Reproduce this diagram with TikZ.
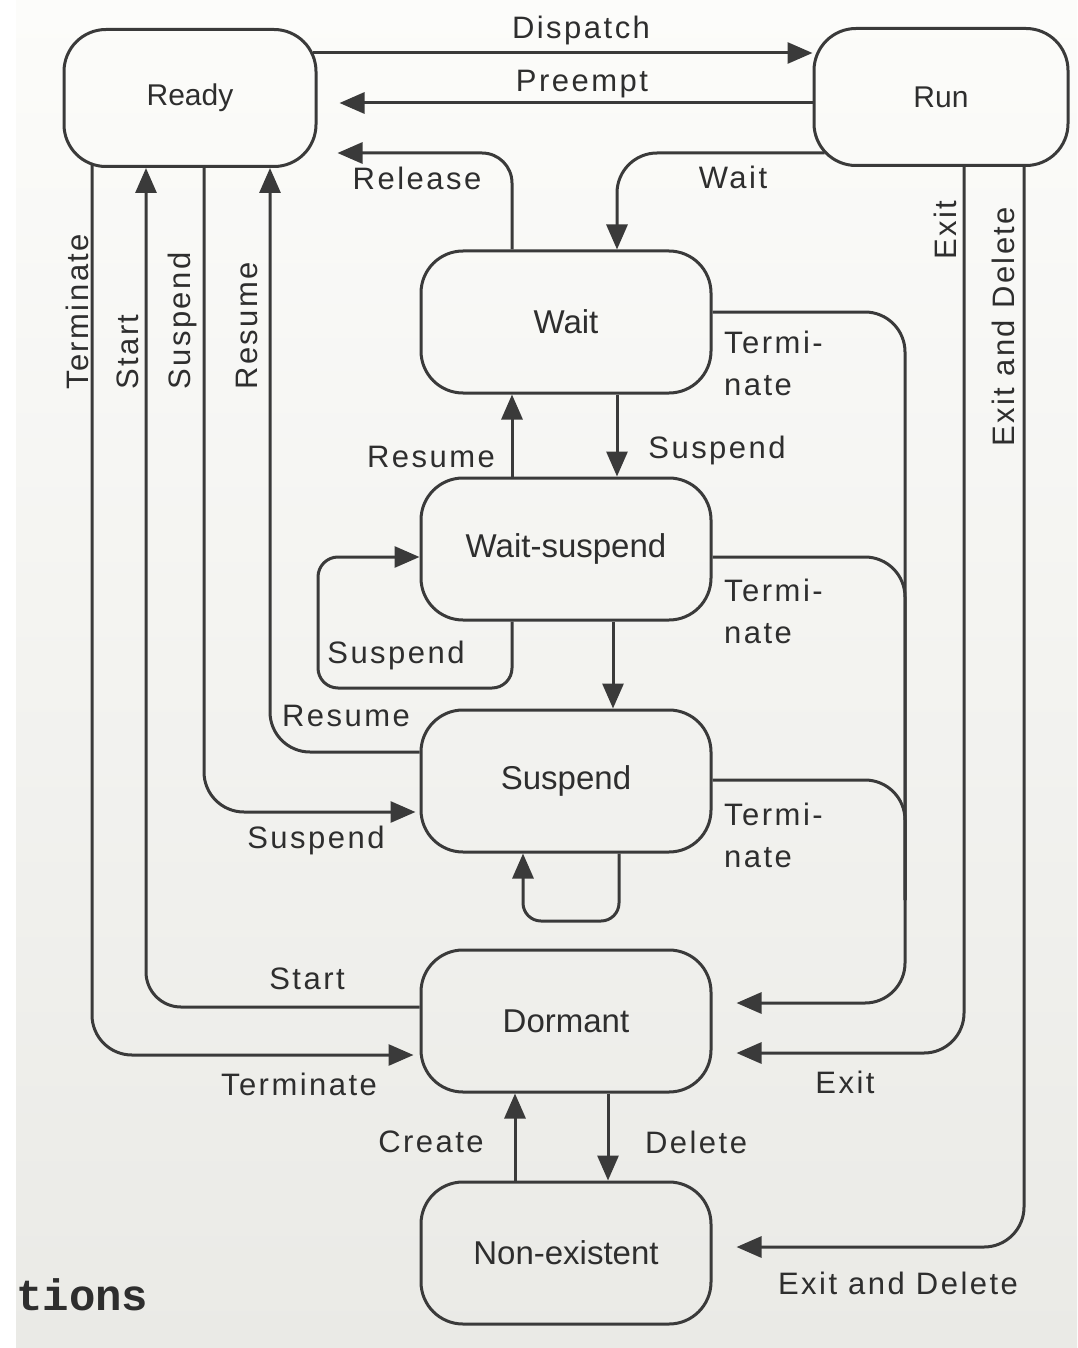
\documentclass[tikz,border=0pt]{standalone}
\usepackage{fontspec}
\setmainfont{Liberation Sans}
\newfontfamily\labfont[LetterSpace=8]{Liberation Sans}
\newfontfamily\captfont{Liberation Mono}
\usetikzlibrary{arrows.meta,calc}
\definecolor{linec}{HTML}{3A3A3A}
\definecolor{textc}{HTML}{2E2E2E}
\definecolor{bgtop}{HTML}{FCFCFA}
\definecolor{bgmid}{HTML}{F8F8F5}
\definecolor{bgbot}{HTML}{EAEAE6}
\begin{document}
\begin{tikzpicture}[x=1pt,y=-1pt,
  state/.style={draw=linec, line width=3pt, rounded corners=42pt,
    minimum width=290pt, minimum height=142pt, inner sep=0pt,
    font=\fontsize{33}{40}\selectfont, text=textc},
  conn/.style={draw=linec, line width=3pt, -{Triangle[length=25pt,width=21pt]}},
  plain/.style={draw=linec, line width=3pt},
  lab/.style={font=\labfont\fontsize{31}{42}\selectfont, text=textc, inner sep=0pt, align=left},
  vlab/.style={lab, rotate=90, anchor=base west},
]
% background
\shade[top color=bgtop, middle color=bgmid, bottom color=bgbot] (0,0) rectangle (1077,1348);
\fill[white] (0,0) rectangle (16,1348);
\useasboundingbox (0,0) rectangle (1077,1348);

% states
\node[state, minimum width=252pt, minimum height=137pt, font=\fontsize{30}{36}\selectfont] (ready) at (190,98) {Ready};
\node[state, minimum width=254pt, minimum height=137pt, font=\fontsize{30}{36}\selectfont] (run) at (941,97) {Run};
\node[state] (wait) at (566,322) {Wait};
\node[state] (ws) at (566,549) {Wait-suspend};
\node[state] (susp) at (566,781) {Suspend};
\node[state] (dorm) at (566,1021) {Dormant};
\node[state] (nonex) at (566,1253) {Non-existent};

% track coordinates
\coordinate (yDisp) at (0,53);
\coordinate (yPre) at (0,103);
\coordinate (yRel) at (0,153);
\coordinate (xRel) at (512,0);
\coordinate (xWt) at (617,0);
\coordinate (xWS) at (613,0);
\coordinate (xSL) at (619,0);
\coordinate (loopA) at (318,688);
\coordinate (yLoop) at (0,557);
\coordinate (loopB) at (523,921);
\coordinate (yT1) at (0,312);
\coordinate (yT2) at (0,557);
\coordinate (yT3) at (0,780);
\coordinate (tc) at (905,1003);
\coordinate (tm) at (905,900);
\coordinate (xEx) at (964,0);
\coordinate (yEx) at (0,1053);
\coordinate (xED) at (1024,0);
\coordinate (yED) at (0,1247);
\coordinate (xT) at (92,0);
\coordinate (xSt) at (146,0);
\coordinate (xSu) at (204,0);
\coordinate (xRe) at (270,0);
\coordinate (yDst) at (0,1007);
\coordinate (yDte) at (0,1055);
\coordinate (ySre) at (0,752);
\coordinate (yRsu) at (0,812);
\coordinate (xCr) at (515,0);
\coordinate (xDe) at (608,0);

% Ready <-> Run
\draw[conn, shorten <=-5pt] (ready.east |- yDisp) -- (run.west |- yDisp);
\draw[conn, shorten >=22pt] (run.west |- yPre) -- (ready.east |- yPre);
% Release
\draw[conn, rounded corners=30pt, shorten >=20pt] (wait.north -| xRel) |- (ready.east |- yRel);
% Run -> Wait
\draw[conn, rounded corners=40pt, shorten <=-12pt] (run.west |- yRel) -| (wait.north -| xWt);
% Wait <-> Wait-suspend
\draw[conn] (wait.south -| xWt) -- (ws.north -| xWt);
\draw[conn] (ws.north -| xRel) -- (wait.south -| xRel);
% Wait-suspend self loop
\draw[conn, rounded corners=20pt] (ws.south -| xRel) |- (loopA) |- (ws.west |- yLoop);
% Wait-suspend -> Suspend
\draw[conn] (ws.south -| xWS) -- (susp.north -| xWS);
% Suspend self loop
\draw[conn, rounded corners=18pt] (susp.south -| xSL) |- (loopB) -- (susp.south -| loopB);
% Terminate (right side)
\draw[conn, rounded corners=40pt, shorten >=24pt] (wait.east |- yT1) -| (tc) -- (dorm.east |- tc);
\draw[plain, rounded corners=40pt] (ws.east |- yT2) -| (tm);
\draw[plain, rounded corners=40pt] (susp.east |- yT3) -| (tm);
% Exit, Exit and Delete
\draw[conn, rounded corners=40pt, shorten >=24pt] (run.south -| xEx) |- (dorm.east |- yEx);
\draw[conn, rounded corners=40pt, shorten >=24pt] (run.south -| xED) |- (nonex.east |- yED);
% Left side
\draw[conn, rounded corners=40pt, shorten >=6pt, shorten <=-3pt] (ready.south -| xT) |- (dorm.west |- yDte);
\draw[conn, rounded corners=35pt] (dorm.west |- yDst) -| (ready.south -| xSt);
\draw[conn, rounded corners=40pt, shorten >=4pt] (ready.south -| xSu) |- (susp.west |- yRsu);
\draw[conn, rounded corners=40pt] (susp.west |- ySre) -| (ready.south -| xRe);
% Create / Delete
\draw[conn] (nonex.north -| xCr) -- (dorm.south -| xCr);
\draw[conn] (dorm.south -| xDe) -- (nonex.north -| xDe);

% labels
\node[lab] (lDisp) at (581,30) {Dispatch};
\node[lab] (lPre) at (582,84) {Preempt};
\node[lab] (lRel) at (417,178) {Release};
\node[lab] (lWt) at (733,177) {Wait};
\node[lab] (lSu1) at (717,450) {Suspend};
\node[lab] (lRe1) at (431,457) {Resume};
\node[lab] (lSu2) at (396,655) {Suspend};
\node[lab] (lRe2) at (346,716) {Resume};
\node[lab] (lSu3) at (316,840) {Suspend};
\node[lab] (lSt) at (307,979) {Start};
\node[lab] (lTe) at (299,1084) {Terminate};
\node[lab] (lCr) at (431,1142) {Create};
\node[lab] (lDe) at (696,1142) {Delete};
\node[lab] (lEx) at (845,1082) {Exit};
\node[lab] (lED) at (898,1283) {Exit and Delete};
\node[lab, anchor=west] (lT1) at (724,363) {Termi-\\nate};
\node[lab, anchor=west] (lT2) at (724,611) {Termi-\\nate};
\node[lab, anchor=west] (lT3) at (724,835) {Termi-\\nate};
\node[vlab] (vTe) at (88,390) {Terminate};
\node[vlab] (vSt) at (138,390) {Start};
\node[vlab] (vSu) at (190,390) {Suspend};
\node[vlab] (vRe) at (257,390) {Resume};
\node[vlab] (vEx) at (956,260) {Exit};
\node[vlab] (vED) at (1014,447) {Exit and Delete};
\node[font=\captfont\bfseries\fontsize{44}{50}\selectfont, text=textc, anchor=west, inner sep=0pt] (capt) at (16,1295) {tions};
\end{tikzpicture}
\end{document}
